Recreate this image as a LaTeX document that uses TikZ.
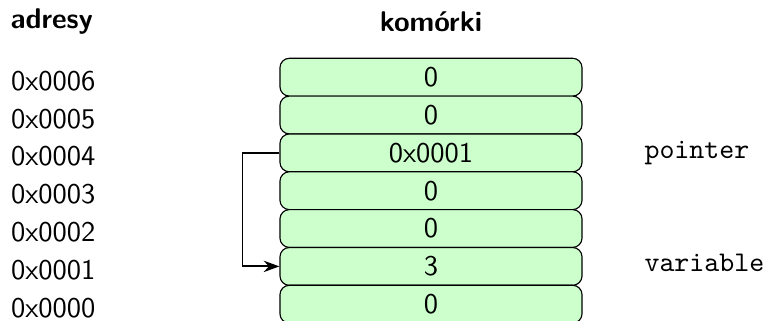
\documentclass[tikz,border=0pt]{standalone}
\usepackage{fontspec}
\usetikzlibrary{arrows.meta}
\begin{document}
\begin{tikzpicture}[x=0.3509pt,y=-0.3509pt,
  font=\sffamily,
  cell/.style={draw=black,fill=green!20,rounded corners=3.3pt,minimum width=106pt,
    minimum height=13.27pt,inner sep=0pt},
  addr/.style={anchor=west,inner sep=0pt},
  head/.style={font=\sffamily\bfseries,inner sep=0pt},
  varname/.style={anchor=base west,inner sep=0pt,font=\ttfamily},
  link/.style={line width=0.7pt,-{Stealth[length=5.5pt,width=4pt]}}]
\useasboundingbox (0,0) rectangle (769,321);
% headers
\node[head,anchor=west] (hadr) at (10,22) {adresy};
\node[head] (hcell) at (431,22) {komórki};
% cells
\node[cell] (c6) at (431,77.2) {0};
\node[cell] (c5) at (431,115.0) {0};
\node[cell] (c4) at (431,152.9) {0x0001};
\node[cell] (c3) at (431,190.7) {0};
\node[cell] (c2) at (431,228.5) {0};
\node[cell] (c1) at (431,266.4) {3};
\node[cell] (c0) at (431,304.2) {0};
% addresses
\node[addr] (a6) at (10.5,81.0) {0x0006};
\node[addr] (a5) at (10.5,118.8) {0x0005};
\node[addr] (a4) at (10.5,156.6) {0x0004};
\node[addr] (a3) at (10.5,194.4) {0x0003};
\node[addr] (a2) at (10.5,232.2) {0x0002};
\node[addr] (a1) at (10.5,270.0) {0x0001};
\node[addr] (a0) at (10.5,307.8) {0x0000};
% names
\node[varname] (pname) at (644,158.5) {pointer};
\node[varname] (vname) at (644,271.8) {variable};
% pointer arrow
\coordinate (bendtop) at (242.5,152.9);
\coordinate (bendbot) at (242.5,266.4);
\draw[link] (c4.west) -- (bendtop) -- (bendbot) -- (c1.west);
\end{tikzpicture}
\end{document}
